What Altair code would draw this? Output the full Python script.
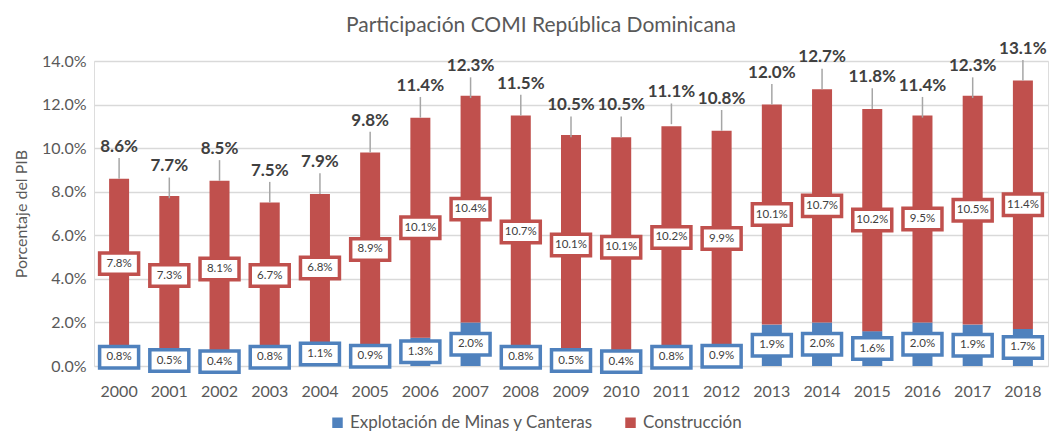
import altair as alt
import pandas as pd

years = [str(y) for y in range(2000, 2019)]
mining = [0.8, 0.5, 0.4, 0.8, 1.1, 0.9, 1.3, 2.0, 0.8, 0.5, 0.4, 0.8, 0.9, 1.9, 2.0, 1.6, 2.0, 1.9, 1.7]
construction = [7.8, 7.3, 8.1, 6.7, 6.8, 8.9, 10.1, 10.4, 10.7, 10.1, 10.1, 10.2, 9.9, 10.1, 10.7, 10.2, 9.5, 10.5, 11.4]
totals = [8.6, 7.7, 8.5, 7.5, 7.9, 9.8, 11.4, 12.3, 11.5, 10.5, 10.5, 11.1, 10.8, 12.0, 12.7, 11.8, 11.4, 12.3, 13.1]

S_MIN = "Explotación de Minas y Canteras"
S_CON = "Construcción"
BLUE = "#4F81BD"
RED = "#C0504D"
FONT = "Lato"

df = pd.DataFrame({"year": years, S_MIN: mining, S_CON: construction, "total": totals})

x_enc = alt.X("year:O", title=None,
              scale=alt.Scale(paddingInner=0.6, paddingOuter=0.3),
              axis=alt.Axis(labelAngle=0, labelFontSize=16, labelColor="#595959",
                            domain=False, ticks=False, labelPadding=17, labelFont=FONT))
y_scale = alt.Scale(domain=[0, 14], nice=False)

base = alt.Chart(df)

bars = base.transform_fold([S_MIN, S_CON], as_=["serie", "valor"]).transform_calculate(
    orden=f"datum.serie == '{S_MIN}' ? 0 : 1"
).mark_bar(size=20).encode(
    x=x_enc,
    y=alt.Y("valor:Q", stack="zero", scale=y_scale, title="Porcentaje del PIB",
            axis=alt.Axis(values=[0, 2, 4, 6, 8, 10, 12, 14],
                          labelExpr="format(datum.value, '.1f') + '%'",
                          labelFontSize=16, labelColor="#595959", labelFont=FONT,
                          domain=False, ticks=False, gridColor="#d9d9d9", gridWidth=1.5,
                          titleFontSize=16, titleFontWeight="normal", titleColor="#595959",
                          titleFont=FONT, labelPadding=8, titlePadding=12)),
    color=alt.Color("serie:N", scale=alt.Scale(domain=[S_MIN, S_CON], range=[BLUE, RED]),
                    legend=alt.Legend(title=None, orient="none", direction="horizontal",
                                      legendX=235, legendY=353,
                                      symbolType="square", symbolSize=110, labelLimit=0,
                                      labelFontSize=17, labelColor="#595959", labelFont=FONT,
                                      columnPadding=29)),
    order=alt.Order("orden:Q"),
)

BOX = "M-1,-0.55 L1,-0.55 L1,0.55 L-1,0.55 Z"

lab = base.transform_calculate(
    mid_min="datum['" + S_MIN + "'] / 2",
    mid_con="datum['" + S_MIN + "'] + datum['" + S_CON + "'] / 2",
    txt_min="format(datum['" + S_MIN + "'], '.1f') + '%'",
    txt_con="format(datum['" + S_CON + "'], '.1f') + '%'",
    lead_top="datum.total + 0.95",
    lab_y="datum.total + 1.05",
    txt_tot="format(datum.total, '.1f') + '%'",
)

box_con = lab.mark_point(shape=BOX, size=1520, filled=True, fill="white", stroke=RED,
                         strokeWidth=3.5, opacity=1).encode(
    x="year:O", y=alt.Y("mid_con:Q", scale=y_scale))
box_min = lab.mark_point(shape=BOX, size=1520, filled=True, fill="white", stroke=BLUE,
                         strokeWidth=3.5, opacity=1).encode(
    x="year:O", y=alt.Y("mid_min:Q", scale=y_scale))
txt_con = lab.mark_text(fontSize=11.5, color="#404040", font=FONT).encode(
    x="year:O", y=alt.Y("mid_con:Q", scale=y_scale), text="txt_con:N")
txt_min = lab.mark_text(fontSize=11.5, color="#404040", font=FONT).encode(
    x="year:O", y=alt.Y("mid_min:Q", scale=y_scale), text="txt_min:N")

leader = lab.mark_rule(color="#a6a6a6", strokeWidth=1.5).encode(
    x="year:O", y=alt.Y("total:Q", scale=y_scale), y2="lead_top:Q")
tot_txt = lab.mark_text(fontSize=17, fontWeight="bold", color="#404040", baseline="bottom",
                        font=FONT).encode(
    x="year:O", y=alt.Y("lab_y:Q", scale=y_scale), text="txt_tot:N")

chart = alt.layer(bars, leader, tot_txt, box_con, txt_con, box_min, txt_min).properties(
    width=1045, height=424,
    padding={"left": 5, "right": 5, "top": 5, "bottom": 33},
    autosize=alt.AutoSizeParams(type="fit", contains="padding"),
    title=alt.TitleParams("Participación COMI República Dominicana", fontSize=21,
                          fontWeight="normal", color="#595959", font=FONT, offset=4, dx=-30),
).configure_view(stroke=None, fill="#f4f4f4").configure(background="white")

chart.save("out.html", embed_options={"renderer": "svg", "actions": False})
